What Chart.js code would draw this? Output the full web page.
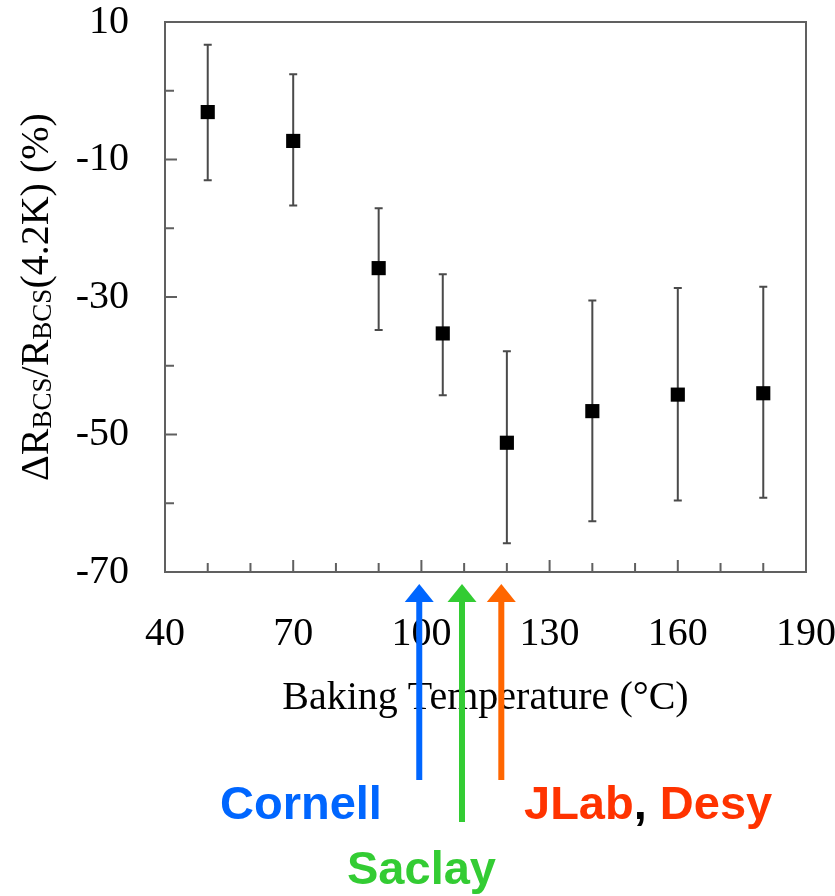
<!DOCTYPE html>
<html>
<head>
<meta charset="utf-8">
<script src="https://cdn.jsdelivr.net/npm/chart.js@4.4.0/dist/chart.umd.min.js"></script>
<style>
html,body{margin:0;padding:0;background:#fff;}
canvas{display:block;}
</style>
</head>
<body>
<canvas id="c" width="835" height="896"></canvas>
<script>
// ---- data ----
const temps = [50, 70, 90, 105, 120, 140, 160, 180];
const deltaR = [-3.1, -7.3, -25.8, -35.3, -51.2, -46.6, -44.2, -44.0];
const errUpper = [6.7, 2.4, -17.1, -26.7, -37.9, -30.5, -28.7, -28.5];
const errLower = [-13.0, -16.7, -34.8, -44.3, -65.8, -62.6, -59.6, -59.2];
const xTickLabels = [40, 70, 100, 130, 160, 190];
const yTickLabels = [10, -10, -30, -50, -70];
const labs = ['Cornell', 'Saclay', 'JLab', 'Desy'];
const labTemps = [99.5, 109.5, 118.7];

const SERIF = '"Liberation Serif", "Times New Roman", serif';
const SANS = '"Liberation Sans", Arial, sans-serif';
const AXIS_COLOR = '#606060';

function noPad(s) { s.paddingTop = 0; s.paddingBottom = 0; s.paddingLeft = 0; s.paddingRight = 0; }

const decor = {
  id: 'decor',
  beforeDatasetsDraw(chart) {
    const ctx = chart.ctx, xs = chart.scales.x, ys = chart.scales.y;
    ctx.save();
    ctx.strokeStyle = '#4a4a4a';
    ctx.lineWidth = 2;
    for (let i = 0; i < temps.length; i++) {
      const px = xs.getPixelForValue(temps[i]);
      const pt = ys.getPixelForValue(errUpper[i]);
      const pb = ys.getPixelForValue(errLower[i]);
      ctx.beginPath();
      ctx.moveTo(px, pt); ctx.lineTo(px, pb);
      ctx.moveTo(px - 4, pt); ctx.lineTo(px + 4, pt);
      ctx.moveTo(px - 4, pb); ctx.lineTo(px + 4, pb);
      ctx.stroke();
    }
    ctx.restore();
  },
  afterDraw(chart) {
    const ctx = chart.ctx, xs = chart.scales.x, ys = chart.scales.y;
    const a = chart.chartArea;
    ctx.save();
    // frame
    ctx.strokeStyle = AXIS_COLOR;
    ctx.lineWidth = 2;
    ctx.strokeRect(a.left, a.top, a.right - a.left, a.bottom - a.top);
    // inward ticks
    ctx.beginPath();
    xs.ticks.forEach(t => {
      const px = xs.getPixelForValue(t.value);
      const len = xTickLabels.includes(t.value) ? 12 : 9;
      ctx.moveTo(px, a.bottom); ctx.lineTo(px, a.bottom - len);
    });
    ys.ticks.forEach(t => {
      const py = ys.getPixelForValue(t.value);
      const len = yTickLabels.includes(t.value) ? 12 : 9;
      ctx.moveTo(a.left, py); ctx.lineTo(a.left + len, py);
    });
    ctx.stroke();

    // x title
    ctx.fillStyle = '#000';
    ctx.font = '40px ' + SERIF;
    ctx.textAlign = 'center';
    ctx.textBaseline = 'alphabetic';
    ctx.fillText('Baking Temperature (\u00B0C)', (a.left + a.right) / 2, 709);

    // y title with subscripts
    const parts = [
      ['\u0394R', 40, 0], ['BCS', 27, 3], ['/R', 40, 0], ['BCS', 27, 3], ['(4.2K) (%)', 40, 0]
    ];
    let total = 0;
    parts.forEach(p => { ctx.font = p[1] + 'px ' + SERIF; total += ctx.measureText(p[0]).width; });
    ctx.translate(48, (a.top + a.bottom) / 2);
    ctx.rotate(-Math.PI / 2);
    ctx.textAlign = 'left';
    let xx = -total / 2;
    parts.forEach(p => {
      ctx.font = p[1] + 'px ' + SERIF;
      ctx.fillText(p[0], xx, p[2]);
      xx += ctx.measureText(p[0]).width;
    });
    ctx.setTransform(1, 0, 0, 1, 0, 0);

    // arrows
    const arrowCols = ['#0066ff', '#33cc33', '#ff6600'];
    const ends = [780, 822, 780];
    labTemps.forEach((t, i) => {
      const px = xs.getPixelForValue(t);
      ctx.fillStyle = arrowCols[i];
      ctx.fillRect(px - 3, 598, 6, ends[i] - 598);
      ctx.beginPath();
      ctx.moveTo(px, 584);
      ctx.lineTo(px - 14.5, 602);
      ctx.lineTo(px + 14.5, 602);
      ctx.closePath();
      ctx.fill();
    });

    // labels
    ctx.font = 'bold 47px ' + SANS;
    ctx.textAlign = 'left';
    ctx.textBaseline = 'alphabetic';
    ctx.fillStyle = '#0066ff';
    ctx.fillText(labs[0], 220, 819);
    ctx.fillStyle = '#33cc33';
    ctx.fillText(labs[1], 347, 884);
    let jx = 524;
    ctx.fillStyle = '#ff3300';
    ctx.fillText(labs[2], jx, 819);
    jx += ctx.measureText(labs[2]).width;
    ctx.fillStyle = '#000';
    ctx.fillText(',', jx, 819);
    jx += ctx.measureText(', ').width;
    ctx.fillStyle = '#ff3300';
    ctx.fillText(labs[3], jx, 819);
    ctx.restore();
  }
};

new Chart(document.getElementById('c'), {
  type: 'scatter',
  data: {
    datasets: [{
      data: temps.map((t, i) => ({ x: t, y: deltaR[i] })),
      pointStyle: 'rect',
      pointRadius: 10,
      pointHoverRadius: 10,
      backgroundColor: '#000',
      borderColor: '#000',
      borderWidth: 0,
      showLine: false
    }]
  },
  options: {
    responsive: false,
    animation: false,
    events: [],
    layout: { padding: { top: 22, right: 29, left: 0, bottom: 0 } },
    plugins: { legend: { display: false }, tooltip: { enabled: false } },
    scales: {
      x: {
        type: 'linear', min: 40, max: 190,
        afterFit(s) { s.height = 324; noPad(s); },
        border: { display: false },
        grid: { display: false, drawTicks: false },
        ticks: {
          stepSize: 10, autoSkip: false, maxRotation: 0, padding: 42,
          color: '#000', font: { family: SERIF, size: 40, lineHeight: 1 },
          callback: v => xTickLabels.includes(v) ? String(v) : ''
        }
      },
      y: {
        type: 'linear', min: -70, max: 10,
        afterFit(s) { s.width = 165; noPad(s); },
        border: { display: false },
        grid: { display: false, drawTicks: false },
        ticks: {
          stepSize: 10, autoSkip: false, padding: 36,
          color: '#000', font: { family: SERIF, size: 40, lineHeight: 1 },
          callback: v => yTickLabels.includes(v) ? String(v) : ''
        }
      }
    }
  },
  plugins: [decor]
});
</script>
</body>
</html>
